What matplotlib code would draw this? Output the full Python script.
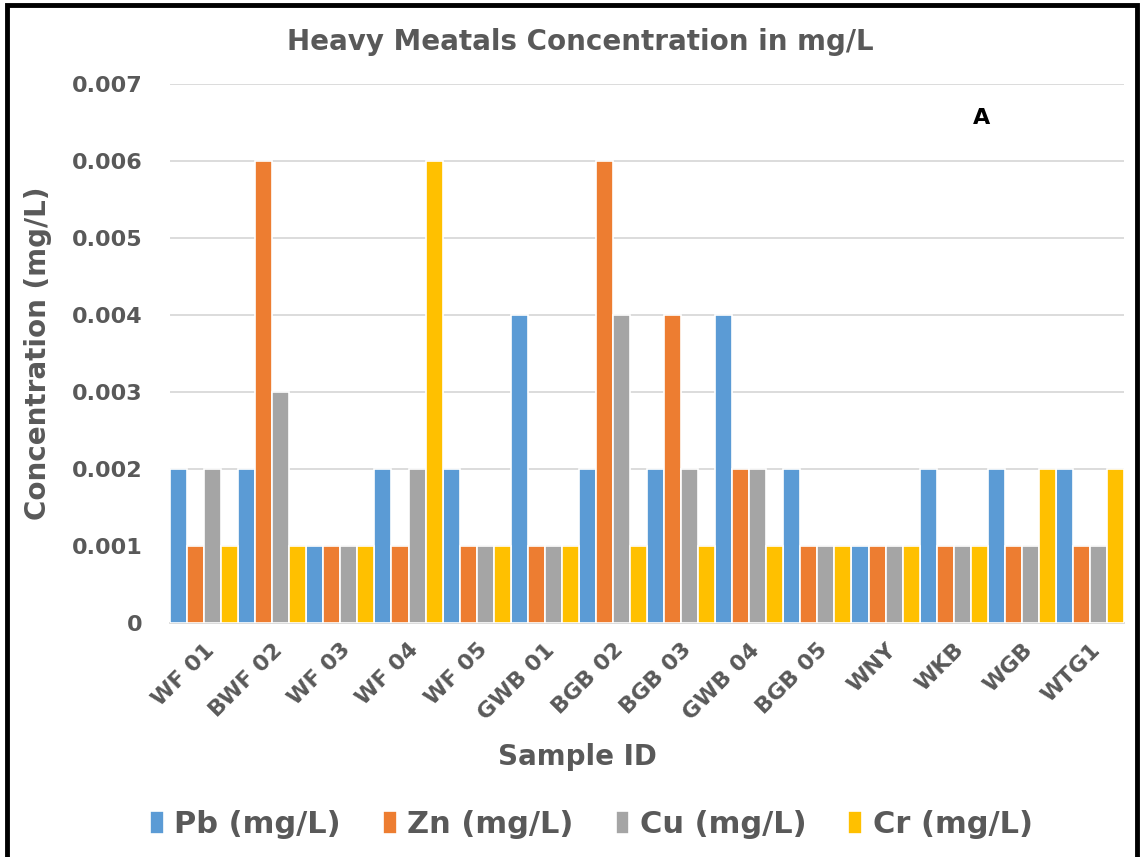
import matplotlib
matplotlib.use("Agg")
import matplotlib.pyplot as plt
import numpy as np
from matplotlib.patches import Rectangle

categories = ["WF 01", "BWF 02", "WF 03", "WF 04", "WF 05", "GWB 01", "BGB 02",
              "BGB 03", "GWB 04", "BGB 05", "WNY", "WKB", "WGB", "WTG1"]
pb = [0.002, 0.002, 0.001, 0.002, 0.002, 0.004, 0.002, 0.002, 0.004, 0.002, 0.001, 0.002, 0.002, 0.002]
zn = [0.001, 0.006, 0.001, 0.001, 0.001, 0.001, 0.006, 0.004, 0.002, 0.001, 0.001, 0.001, 0.001, 0.001]
cu = [0.002, 0.003, 0.001, 0.002, 0.001, 0.001, 0.004, 0.002, 0.002, 0.001, 0.001, 0.001, 0.001, 0.001]
cr = [0.001, 0.001, 0.001, 0.006, 0.001, 0.001, 0.001, 0.001, 0.001, 0.001, 0.001, 0.001, 0.002, 0.002]
series_names = ["Pb (mg/L)", "Zn (mg/L)", "Cu (mg/L)", "Cr (mg/L)"]
colors = ["#5B9BD5", "#ED7D31", "#A5A5A5", "#FFC000"]
yticks = [0, 0.001, 0.002, 0.003, 0.004, 0.005, 0.006, 0.007]
ytick_labels = ["0", "0.001", "0.002", "0.003", "0.004", "0.005", "0.006", "0.007"]

txt = "#595959"
plt.rcParams['font.family'] = ['DejaVu Sans']

fig = plt.figure(figsize=(11.44, 8.57), dpi=100)
ax = fig.add_axes([0.1486, 0.273, 0.834, 0.629])

x = np.arange(len(categories))
w = 0.25
for i, (vals, name, c) in enumerate(zip([pb, zn, cu, cr], series_names, colors)):
    ax.bar(x - 0.375 + i * w, vals, width=w, color=c, edgecolor="white", linewidth=1.2,
           label=name, zorder=3)

ax.set_xlim(-0.5, len(categories) - 0.5)
ax.set_ylim(0, 0.007)
ax.set_yticks(yticks)
ax.set_yticklabels(ytick_labels, fontsize=16, fontweight="bold", color=txt)
ax.set_xticks(x)
ax.set_xticklabels(categories, rotation=45, ha="right", rotation_mode="anchor",
                   fontsize=16, fontweight="bold", color=txt)
ax.tick_params(axis="x", length=0, pad=12)
ax.tick_params(axis="y", length=0, pad=20)
ax.grid(axis="y", color="#D9D9D9", linewidth=1.3, zorder=0)
for s in ["top", "right", "left"]:
    ax.spines[s].set_visible(False)
ax.spines["bottom"].set_color("#D9D9D9")
ax.spines["bottom"].set_linewidth(1.3)

ax.set_ylabel("Concentration (mg/L)", fontsize=20, fontweight="bold", color=txt, labelpad=14)
fig.text(0.505, 0.117, "Sample ID", fontsize=20, fontweight="bold", color=txt,
         ha="center", va="center")
fig.text(0.507, 0.951, "Heavy Meatals Concentration in mg/L", fontsize=20,
         fontweight="bold", color=txt, ha="center", va="center")
fig.text(0.858, 0.862, "A", fontsize=16, fontweight="bold", color="black",
         ha="center", va="center")

leg = fig.legend(loc="center", bbox_to_anchor=(0.517, 0.038), ncol=4, frameon=False,
                 prop={"size": 22, "weight": "bold"},
                 handlelength=0.45, handleheight=0.8, handletextpad=0.35, columnspacing=1.37)
for t in leg.get_texts():
    t.set_color(txt)

fig.add_artist(Rectangle((0.006, -0.01), 0.988, 1.004, transform=fig.transFigure,
                         fill=False, edgecolor="black", linewidth=3.5))

fig.savefig("out.png", dpi=100, facecolor="white")
